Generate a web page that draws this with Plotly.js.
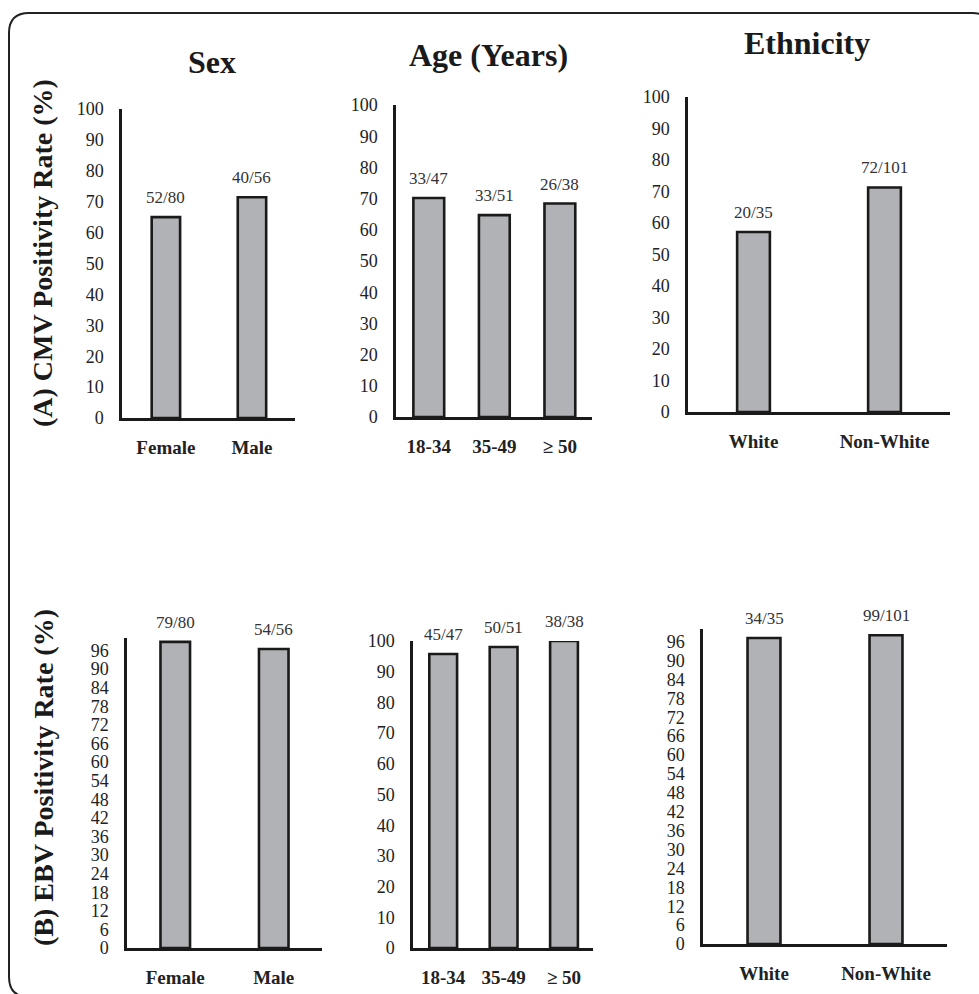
<!DOCTYPE html>
<html>
<head>
<meta charset="utf-8">
<script src="https://cdn.plot.ly/plotly-3.0.1.min.js"></script>
<style>html,body{margin:0;padding:0;background:#fff;}#chart{width:979px;height:994px;}</style>
</head>
<body>
<div id="chart"></div>
<script>
// ---- Data ----
const sexCats = ['Female', 'Male'];
const ageCats = ['18-34', '35-49', '≥ 50'];
const ethCats = ['White', 'Non-White'];

const cmvSexPos = [52, 40];  const cmvSexN = [80, 56];
const cmvAgePos = [33, 33, 26]; const cmvAgeN = [47, 51, 38];
const cmvEthPos = [20, 72];  const cmvEthN = [35, 101];

const ebvSexPos = [79, 54];  const ebvSexN = [80, 56];
const ebvAgePos = [45, 50, 38]; const ebvAgeN = [47, 51, 38];
const ebvEthPos = [34, 99];  const ebvEthN = [35, 101];

const groupTitles = ['Sex', 'Age (Years)', 'Ethnicity'];
const rowTitles = ['(A) CMV Positivity Rate (%)', '(B) EBV Positivity Rate (%)'];

const ticks10 = [0, 10, 20, 30, 40, 50, 60, 70, 80, 90, 100];
const ticks6 = [0, 6, 12, 18, 24, 30, 36, 42, 48, 54, 60, 66, 72, 78, 84, 90, 96];

// ---- Layout helpers ----
const W = 979, H = 994;
const px = x => x / W;
const py = y => 1 - y / H;

const SERIF = 'Liberation Serif';

const panels = [
  {cats: sexCats, pos: cmvSexPos, n: cmvSexN, ticks: ticks10, x0: 122, x1: 295, y0: 109, y1: 418, xr: [-0.51, 1.5], bw: 0.33},
  {cats: ageCats, pos: cmvAgePos, n: cmvAgeN, ticks: ticks10, x0: 396, x1: 592, y0: 105, y1: 417, xr: [-0.5, 2.49], bw: 0.47},
  {cats: ethCats, pos: cmvEthPos, n: cmvEthN, ticks: ticks10, x0: 688, x1: 950, y0: 97, y1: 412, xr: [-0.5, 1.5], bw: 0.25},
  {cats: sexCats, pos: ebvSexPos, n: ebvSexN, ticks: ticks6, x0: 127, x1: 322, y0: 638, y1: 948, xr: [-0.49, 1.49], bw: 0.30},
  {cats: ageCats, pos: ebvAgePos, n: ebvAgeN, ticks: ticks10, x0: 413, x1: 593, y0: 641, y1: 948, xr: [-0.5, 2.48], bw: 0.46},
  {cats: ethCats, pos: ebvEthPos, n: ebvEthN, ticks: ticks6, x0: 703, x1: 947, y0: 629, y1: 944, xr: [-0.5, 1.5], bw: 0.27}
];

const traces = [];
const annotations = [];
const layout = {
  width: W, height: H,
  margin: {l: 0, r: 0, t: 0, b: 0, pad: 0},
  paper_bgcolor: '#fff', plot_bgcolor: 'rgba(0,0,0,0)',
  showlegend: false,
  font: {family: SERIF, color: '#222'}
};

panels.forEach((p, i) => {
  const k = i + 1;
  const xa = k === 1 ? 'x' : 'x' + k;
  const ya = k === 1 ? 'y' : 'y' + k;
  const pct = p.pos.map((v, j) => v / p.n[j] * 100);
  traces.push({
    type: 'bar', x: p.cats, y: pct, xaxis: xa, yaxis: ya,
    width: p.cats.map(() => p.bw),
    marker: {color: '#b1b2b5', line: {color: '#1a1a1a', width: 2.6}},
    hoverinfo: 'skip', cliponaxis: false
  });
  p.cats.forEach((c, j) => {
    annotations.push({
      x: c, y: pct[j], xref: xa, yref: ya, yanchor: 'bottom', yshift: 8,
      text: p.pos[j] + '/' + p.n[j], showarrow: false,
      font: {family: SERIF, size: 17, color: '#333'}
    });
  });
  layout['xaxis' + (k === 1 ? '' : k)] = {
    domain: [px(p.x0), px(p.x1)], anchor: ya, type: 'category',
    range: p.xr, showline: true, linecolor: '#1a1a1a', linewidth: 2.6,
    showgrid: false, zeroline: false, ticks: '', ticklabelstandoff: 11,
    tickfont: {family: SERIF, size: 19, color: '#222', weight: 'bold'},
    fixedrange: true
  };
  layout['yaxis' + (k === 1 ? '' : k)] = {
    domain: [py(p.y1), py(p.y0)], anchor: xa,
    range: [0, 100], showline: true, linecolor: '#1a1a1a', linewidth: 2.6,
    showgrid: false, zeroline: false, ticks: '',
    tickmode: 'array', tickvals: p.ticks, ticktext: p.ticks.map(String),
    ticklabelstandoff: 12,
    tickfont: {family: SERIF, size: 18, color: '#222'},
    fixedrange: true
  };
});

// Column titles
const titlePos = [[212, 62], [488, 55], [807, 43]];
groupTitles.forEach((t, i) => {
  annotations.push({
    x: px(titlePos[i][0]), y: py(titlePos[i][1]), xref: 'paper', yref: 'paper',
    xanchor: 'center', yanchor: 'middle', showarrow: false, text: '<b>' + t + '</b>',
    font: {family: SERIF, size: 32, color: '#1a1a1a'}
  });
});
// Row titles
const rowPos = [[43, 253], [43, 778]];
rowTitles.forEach((t, i) => {
  annotations.push({
    x: px(rowPos[i][0]), y: py(rowPos[i][1]), xref: 'paper', yref: 'paper',
    xanchor: 'center', yanchor: 'middle', showarrow: false, textangle: -90,
    text: '<b>' + t + '</b>',
    font: {family: SERIF, size: 28, color: '#1a1a1a'}
  });
});
layout.annotations = annotations;

// Rounded border
const L = 9, T = 13, R = 992, B = 997, r = 20;
const P = (x, y) => px(x).toFixed(5) + ',' + py(y).toFixed(5);
const path = 'M' + P(L + r, T) + ' L' + P(R - r, T) + ' Q' + P(R, T) + ' ' + P(R, T + r) +
  ' L' + P(R, B - r) + ' Q' + P(R, B) + ' ' + P(R - r, B) +
  ' L' + P(L + r, B) + ' Q' + P(L, B) + ' ' + P(L, B - r) +
  ' L' + P(L, T + r) + ' Q' + P(L, T) + ' ' + P(L + r, T) + ' Z';
layout.shapes = [{type: 'path', xref: 'paper', yref: 'paper', path: path,
  line: {color: '#222', width: 2}, fillcolor: 'rgba(0,0,0,0)', layer: 'below'}];

Plotly.newPlot('chart', traces, layout, {staticPlot: true, displayModeBar: false});
</script>
</body>
</html>
